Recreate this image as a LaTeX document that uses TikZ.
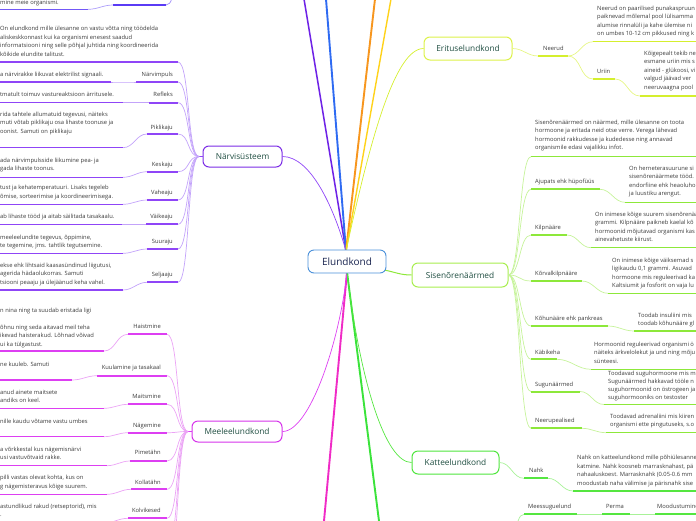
\documentclass[tikz,border=0pt]{standalone}
\usepackage{fontspec}
\setmainfont{Open Sans}
\definecolor{nvB}{HTML}{7B2CE6}
\definecolor{nvU}{HTML}{8F45F7}
\definecolor{nvC}{HTML}{C3A3FA}
\definecolor{meB}{HTML}{D633EB}
\definecolor{meU}{HTML}{DD3FF2}
\definecolor{meC}{HTML}{EBA3F5}
\definecolor{siB}{HTML}{A8EE4E}
\definecolor{siU}{HTML}{8DE83A}
\definecolor{siC}{HTML}{C6F39A}
\definecolor{erB}{HTML}{DDF24A}
\definecolor{erU}{HTML}{D5EF2E}
\definecolor{erC}{HTML}{E6F685}
\definecolor{kaB}{HTML}{4FE63D}
\definecolor{kaU}{HTML}{55E640}
\definecolor{kaC}{HTML}{A8F298}
\definecolor{elB}{HTML}{4A90D9}
\definecolor{inU}{HTML}{5A3BF5}
\definecolor{lnP}{HTML}{6E22E6}
\definecolor{lnB}{HTML}{2F6BF2}
\definecolor{lnO}{HTML}{F7961E}
\definecolor{lnY}{HTML}{FFD21A}
\definecolor{lnM}{HTML}{F02BC6}
\definecolor{lnG}{HTML}{3BE33B}
\definecolor{mainT}{HTML}{1E4D40}
\definecolor{elT}{HTML}{1A2550}
\definecolor{txt}{HTML}{3A3A3A}
\tikzset{
  lab/.style={font=\fontsize{5.8}{7}\selectfont, text=txt, inner sep=0pt},
  dtx/.style={font=\fontsize{5.8}{8.45}\selectfont, text=txt, inner sep=0pt, align=left, anchor=base west},
  mainbox/.style={draw, rounded corners=6pt, line width=1pt, fill=white, inner sep=0pt, text=mainT, font=\fontsize{8.3}{10}\selectfont},
  lul/.style={line width=2pt},
  dul/.style={line width=1.5pt},
  con/.style={line width=0.7pt},
}
\begin{document}
\begin{tikzpicture}[x={(1pt,0)},y={(0,-1pt)}]
\useasboundingbox (0,0) rectangle (696,520);
\clip (0,0) rectangle (696,520);

% ---------- central hub coordinates ----------
\coordinate (eT) at (346,251);
\coordinate (eB) at (347,272);
\coordinate (eR) at (384,270);
\coordinate (oP) at (304,-1);
\coordinate (oB) at (326,-1);
\coordinate (oO) at (375,-1);
\coordinate (oY) at (391,-1);
\coordinate (oM) at (324,521);
\coordinate (oG) at (379,521);

% main boxes
\node[mainbox, draw=nvB, minimum width=79pt, minimum height=21pt] (nv) at (242.5,156.5) {Närvisüsteem};
\node[mainbox, draw=meB, minimum width=90pt, minimum height=21pt] (me) at (237,431.5) {Meeleelundkond};
\node[mainbox, draw=erB, minimum width=88pt, minimum height=23pt] (er) at (468,48.5) {Erituselundkond};
\node[mainbox, draw=siB, minimum width=96pt, minimum height=24pt] (si) at (460,275) {Sisenõrenäärmed};
\node[mainbox, draw=kaB, minimum width=87pt, minimum height=23pt] (ka) at (455.5,462.5) {Katteelundkond};

% straight branches to off-canvas topics
\draw[line width=1.5pt, lnP] (eT) -- (oP);
\draw[line width=1.9pt, lnB] (eT) -- (oB);
\draw[line width=1.9pt, lnO] (eT) -- (oO);
\draw[line width=1.4pt, lnY] (eT) -- (oY);
\draw[line width=1.9pt, lnM] (eB) -- (oM);
\draw[line width=1.9pt, lnG] (eB) -- (oG);

% curved branches
\draw[con, nvU] (eT) .. controls (333,205) and (310,156.5) .. (nv.east);
\draw[con, erU] (eT) .. controls (370,140) and (395,48.5) .. (er.west);
\draw[con, meU] (eB) .. controls (340,340) and (310,431.5) .. (me.east);
\draw[con, kaU] (eB) .. controls (360,380) and (385,462.5) .. (ka.west);
\draw[line width=1pt, siU] (eR) .. controls (395,272) and (400,275) .. (si.west);

\node[draw=elB, rounded corners=6pt, line width=0.9pt, fill=white, inner sep=0pt, minimum width=78pt, minimum height=23pt, text=elT, font=\fontsize{10}{12}\selectfont] (el) at (347,261.5) {Elundkond};

% ---------- top-left fragment ----------
\node[dtx] (t1d) at (0,4.2) {mine meie organismi.};
\coordinate (t1dL) at (0,9.3); \coordinate (t1dR) at (88,9.3);
\coordinate (t1L) at (113,5); \coordinate (t1R) at (166,5);
\coordinate (t1P) at (175,-12);
\draw[dul, inU!85] (t1dL) -- (t1dR);
\draw[lul, inU] (t1L) -- (t1R);
\draw[con, inU!50] (t1dR) to[out=0,in=180] (t1L);
\draw[con, inU!60] (t1R) .. controls (172,5) and (172,-5) .. (t1P);

% ---------- Närvisüsteem ----------
\coordinate (nvH) at (199,156.5);
\draw[line width=1.5pt, nvU] (nvH) -- (nv.west);

\node[dtx] (nv0d) at (0,56.15) {On elundkond mille ülesanne on vastu võtta ning töödelda\\aliskeskkonnast kui ka organismi enesest saadud\\informatsiooni ning selle põhjal juhtida ning koordineerida\\kõikide elundite talitust.};
\coordinate (nv0dL) at (0,62); \coordinate (nv0dR) at (178,62);
\draw[dul, nvU] (nv0dL) -- (nv0dR);
\draw[con, nvC] (nvH) .. controls +(-12,0) and +(12,0) .. (nv0dR);

\node[lab, anchor=base east] (nv1) at (173,76.5) {Närvimpuls};
\coordinate (nv1L) at (136,82); \coordinate (nv1R) at (178,82);
\node[dtx] (nv1d) at (0,76.5) {a närvirakke liikuvat elektrilist signaali.};
\coordinate (nv1dL) at (0,82); \coordinate (nv1dR) at (111,82);

\node[lab, anchor=base east] (nv2) at (173,96.5) {Refleks};
\coordinate (nv2L) at (149,102.7); \coordinate (nv2R) at (178,102.7);
\node[dtx] (nv2d) at (0,96.5) {tmatult toimuv vastureaktsioon ärritusele.};
\coordinate (nv2dL) at (0,102.7); \coordinate (nv2dR) at (123,102.7);

\node[lab, anchor=base east] (nv3) at (173,129.2) {Piklikaju};
\coordinate (nv3L) at (147,134); \coordinate (nv3R) at (178,134);
\node[dtx] (nv3d) at (0,133.4) {rida tahtele allumatuid tegevusi, näiteks\\muti võtab piklikaju osa lihaste toonuse ja\\oonist. Samuti on piklikaju};
\coordinate (nv3dL) at (0,147.7); \coordinate (nv3dR) at (123,147.7);

\node[lab, anchor=base east] (nv4) at (173,166.2) {Keskaju};
\coordinate (nv4L) at (147,171.7); \coordinate (nv4R) at (178,171.7);
\node[dtx] (nv4d) at (0,170.65) {ada närvimpulsside liikumine pea- ja\\gada lihaste toonus.};
\coordinate (nv4dL) at (0,177.3); \coordinate (nv4dR) at (123,177.3);

\node[lab, anchor=base east] (nv5) at (173,194.8) {Vaheaju};
\coordinate (nv5L) at (147,200); \coordinate (nv5R) at (178,200);
\node[dtx] (nv5d) at (0,198.25) {tust ja kehatemperatuuri. Lisaks tegeleb\\õmise, sorteerimise ja koordineerimisega.};
\coordinate (nv5dL) at (0,204.3); \coordinate (nv5dR) at (123,204.3);

\node[lab, anchor=base east] (nv6) at (173,218.8) {Väikeaju};
\coordinate (nv6L) at (146,224.3); \coordinate (nv6R) at (178,224.3);
\node[dtx] (nv6d) at (0,218.8) {ab lihaste tööd ja aitab säilitada tasakaalu.};
\coordinate (nv6dL) at (0,224.3); \coordinate (nv6dR) at (122,224.3);

\node[lab, anchor=base east] (nv7) at (173,243.2) {Suuraju};
\coordinate (nv7L) at (147,249); \coordinate (nv7R) at (178,249);
\node[dtx] (nv7d) at (0,247.65) {meeleelundite tegevus, õppimine,\\te tegemine, jms. tahtlik tegutsemine.};
\coordinate (nv7dL) at (0,253.3); \coordinate (nv7dR) at (123,253.3);

\node[lab, anchor=base east] (nv8) at (173,276.5) {Seljaaju};
\coordinate (nv8L) at (147,282.3); \coordinate (nv8R) at (178,282.3);
\node[dtx] (nv8d) at (0,284.4) {ekse ehk lihtsaid kaasasündinud liigutusi,\\agerida hädaolukorras. Samuti\\tsiooni peaaju ja ülejäänud keha vahel.};
\coordinate (nv8dL) at (0,290); \coordinate (nv8dR) at (123,290);

\foreach \i in {1,...,8}{
  \draw[con, nvC] (nv\i dR) to[out=0,in=180] (nv\i L);
  \draw[con, nvC] (nvH) .. controls +(-12,0) and +(12,0) .. (nv\i R);
  \draw[lul, nvU] (nv\i L) -- (nv\i R);
  \draw[dul, nvU] (nv\i dL) -- (nv\i dR);
}

% ---------- Meeleelundkond ----------
\coordinate (meH) at (188,431.5);
\draw[line width=1.5pt, meU] (meH) -- (me.west);

\node[lab, anchor=base east] (me1) at (161,328.8) {Haistmine};
\coordinate (me1L) at (128,334.3); \coordinate (me1R) at (167,334.3);
\node[dtx] (me1d) at (0,346) {n nina ning ta suudab eristada ligi\\\mbox{}\\õhnu ning seda aitavad meil teha\\ikevad haisterakud. Lõhnad võivad\\ui ka tülgastust.};
\coordinate (me1dL) at (0,351); \coordinate (me1dR) at (104,351);

\node[lab, anchor=base east] (me2) at (161,369.8) {Kuulamine ja tasakaal};
\coordinate (me2L) at (97,375.7); \coordinate (me2R) at (167,375.7);
\node[dtx] (me2d) at (0,366.5) {ne kuuleb. Samuti};
\coordinate (me2dL) at (0,380); \coordinate (me2dR) at (72,380);

\node[lab, anchor=base east] (me3) at (161,398.2) {Maitsmine};
\coordinate (me3L) at (128,404.3); \coordinate (me3R) at (167,404.3);
\node[dtx] (me3d) at (0,402.65) {anud ainete maitsete\\andiks on keel.};
\coordinate (me3dL) at (0,408.3); \coordinate (me3dR) at (104,408.3);

\node[lab, anchor=base east] (me4) at (161,427.2) {Nägemine};
\coordinate (me4L) at (128,432.7); \coordinate (me4R) at (167,432.7);
\node[dtx] (me4d) at (0,423.2) {nille kaudu võtame vastu umbes};
\coordinate (me4dL) at (0,436.7); \coordinate (me4dR) at (104,436.7);

\node[lab, anchor=base east] (me5) at (161,454.8) {Pimetähn};
\coordinate (me5L) at (130,461); \coordinate (me5R) at (167,461);
\node[dtx] (me5d) at (0,459.95) {a võrkkestal kus nägemisnärvi\\usi vastuvõtvaid rakke.};
\coordinate (me5dL) at (0,465.7); \coordinate (me5dR) at (107,465.7);

\node[lab, anchor=base east] (me6) at (161,484.2) {Kollatähn};
\coordinate (me6L) at (131,489.3); \coordinate (me6R) at (167,489.3);
\node[dtx] (me6d) at (0,488.25) {pilli vastas olevat kohta, kus on\\g nägemisteravus kõige suurem.};
\coordinate (me6dL) at (0,494.3); \coordinate (me6dR) at (107,494.3);

\node[lab, anchor=base east] (me7) at (161,512.5) {Kolvikesed};
\coordinate (me7L) at (128,518.3); \coordinate (me7R) at (167,518.3);
\node[dtx] (me7d) at (0,516.65) {astundlikud rakud (retseptorid), mis\\.};
\coordinate (me7dL) at (0,523); \coordinate (me7dR) at (104,523);

\coordinate (me8R) at (167,548);
\coordinate (me9R) at (167,578);
\draw[con, meC] (meH) .. controls +(-12,0) and +(12,0) .. (me8R);
\draw[con, meC] (meH) .. controls +(-12,0) and +(12,0) .. (me9R);

\foreach \i in {1,...,7}{
  \draw[con, meC] (me\i dR) to[out=0,in=180] (me\i L);
  \draw[con, meC] (meH) .. controls +(-12,0) and +(12,0) .. (me\i R);
  \draw[lul, meU] (me\i L) -- (me\i R);
  \draw[dul, meU] (me\i dL) -- (me\i dR);
}

% ---------- Sisenõrenäärmed ----------
\coordinate (siH) at (si.east);
\node[dtx] (si0d) at (535,149.55) {Sisenõrenäärmed on näärmed, mille ülesanne on toota\\hormoone ja eritada neid otse verre. Verega lähevad\\hormoonid rakkudesse ja kudedesse ning annavad\\organismile edasi vajalikku infot.};
\coordinate (si0dL) at (531,156.7); \coordinate (si0dR) at (700,156.7);
\draw[dul, siU] (si0dL) -- (si0dR);
\draw[con, siC] (siH) .. controls +(12,0) and +(-12,0) .. (si0dL);

\node[lab, anchor=base west] (si1) at (535,183.8) {Ajupats ehk hüpofüüs};
\coordinate (si1L) at (531,189.3); \coordinate (si1R) at (600,189.3);
\node[dtx] (si1d) at (629,195.85) {On herneterasuurune si\\sisenõrenäärmete tööd.\\endorfiine ehk heaoluho\\ja luustiku arengut.};
\coordinate (si1dL) at (625,202.3); \coordinate (si1dR) at (700,202.3);

\node[lab, anchor=base west] (si2) at (535,229.2) {Kilpnääre};
\coordinate (si2L) at (531,235); \coordinate (si2R) at (567,235);
\node[dtx] (si2d) at (595,241.85) {On inimese kõige suurem sisenõrenää\\grammi. Kilpnääre paikneb kaelal kõ\\hormoonid mõjutavad organismi kas\\ainevahetuste kiirust.};
\coordinate (si2dL) at (591,247.7); \coordinate (si2dR) at (700,247.7);

\node[lab, anchor=base west] (si3) at (535,275.5) {Kõrvalkilpnääre};
\coordinate (si3L) at (531,281); \coordinate (si3R) at (582,281);
\node[dtx] (si3d) at (612,287.55) {On inimese kõige väiksemad s\\ligikaudu 0,1 grammi. Asuvad\\hormoone mis reguleerivad ka\\Kaltsiumit ja fosforit on vaja lu};
\coordinate (si3dL) at (608,293.3); \coordinate (si3dR) at (700,293.3);

\node[lab, anchor=base west] (si4) at (535,320.8) {Kõhunääre ehk pankreas};
\coordinate (si4L) at (531,326); \coordinate (si4R) at (608,326);
\node[dtx] (si4d) at (638,325.65) {Toodab insuliini mis\\toodab kõhunääre gl};
\coordinate (si4dL) at (634,331); \coordinate (si4dR) at (700,331);

\node[lab, anchor=base west] (si5) at (535,354.2) {Käbikeha};
\coordinate (si5L) at (531,359.3); \coordinate (si5R) at (557,359.3);
\node[dtx] (si5d) at (594,363.4) {Hormoonid reguleerivad organismi ö\\näiteks ärkvelolekut ja und ning mõju\\sünteesi.};
\coordinate (si5dL) at (591,369.3); \coordinate (si5dR) at (700,369.3);

\node[lab, anchor=base west] (si6) at (535,386.5) {Sugunäärmed};
\coordinate (si6L) at (531,391.5); \coordinate (si6R) at (580,391.5);
\node[dtx, font=\fontsize{5.8}{8.1}\selectfont] (si6d) at (608,399.6) {Toodavad suguhormoone mis m\\Sugunäärmed hakkavad tööle n\\suguhormoonid on östrogeen ja\\suguhormooniks on testoster};
\coordinate (si6dL) at (604,404.5); \coordinate (si6dR) at (700,404.5);

\node[lab, anchor=base west] (si7) at (535,422.2) {Neerupealised};
\coordinate (si7L) at (531,428.3); \coordinate (si7R) at (582,428.3);
\node[dtx] (si7d) at (610,426.65) {Toodavad adrenaliini mis kiiren\\organismi ette pingutuseks, s.o};
\coordinate (si7dL) at (606,432.7); \coordinate (si7dR) at (700,432.7);

\foreach \i in {1,...,7}{
  \draw[con, siC] (si\i R) to[out=0,in=180] (si\i dL);
  \draw[con, siC] (siH) .. controls +(12,0) and +(-12,0) .. (si\i L);
  \draw[lul, siU] (si\i L) -- (si\i R);
  \draw[dul, siU] (si\i dL) -- (si\i dR);
}

% ---------- Erituselundkond ----------
\node[lab, anchor=base west] (er1) at (543,50.5) {Neerud};
\coordinate (er1L) at (538,56); \coordinate (er1R) at (568,56);
\node[dtx] (er1d) at (597,35.85) {Neerud on paarilised punakaspruun\\paiknevad mõlemal pool lülisamma\\alumise rinnalüli ja kahe ülemise ni\\on umbes 10-12 cm pikkused ning k};
\coordinate (er1dL) at (593,41.7); \coordinate (er1dR) at (700,41.7);

\node[lab, anchor=base west] (er2) at (597,73.2) {Uriin};
\coordinate (er2L) at (593,79); \coordinate (er2R) at (615,79);
\node[dtx] (er2d) at (644,89.3) {Kõigepealt tekib ne\\esmane uriin mis s\\aineid - glükoosi, vi\\valgud jäävad ver\\neeruvaagna pool};
\coordinate (er2dL) at (640,96); \coordinate (er2dR) at (700,96);

\draw[con, erC] (er.east) to[out=0,in=180] (er1L);
\draw[con, erC] (er1R) to[out=0,in=180] (er1dL);
\draw[con, erC] (er1R) to[out=0,in=180] (er2L);
\draw[con, erC] (er2R) to[out=0,in=180] (er2dL);
\draw[lul, erU] (er1L) -- (er1R);
\draw[dul, erU] (er1dL) -- (er1dR);
\draw[lul, erU] (er2L) -- (er2R);
\draw[dul, erU] (er2dL) -- (er2dR);

% ---------- Katteelundkond ----------
\node[lab, anchor=base west] (ka1) at (529,472.5) {Nahk};
\coordinate (ka1L) at (524,478.3); \coordinate (ka1R) at (548,478.3);
\node[dtx] (ka1d) at (577,485.15) {Nahk on katteelundkond mille põhiülesanne\\katmine. Nahk koosneb marrasknahast, pä\\nahaaluskoest. Marrasknahk (0.05-0.6 mm\\moodustab naha välimise ja pärisnahk sise};
\coordinate (ka1dL) at (573,491); \coordinate (ka1dR) at (700,491);
\draw[con, kaC] (ka.east) to[out=0,in=180] (ka1L);
\draw[con, kaC] (ka1R) to[out=0,in=180] (ka1dL);
\draw[lul, kaU] (ka1L) -- (ka1R);
\draw[dul, kaU] (ka1dL) -- (ka1dR);

% ---------- bottom chain ----------
\node[lab, anchor=base west] (b1) at (528,508.2) {Meessuguelund};
\coordinate (b1L) at (524,514.3); \coordinate (b1R) at (577,514.3);
\node[lab, anchor=base west] (b2) at (606,508.2) {Perma};
\coordinate (b2L) at (602,514.3); \coordinate (b2R) at (630,514.3);
\node[lab, anchor=base west] (b3) at (657,508.2) {Moodustumine};
\coordinate (b3L) at (655,514.3); \coordinate (b3R) at (720,514.3);
\coordinate (b0) at (514,532);
\draw[con, kaC] (b1L) .. controls (518,514.3) and (518,525) .. (b0);
\draw[con, kaC] (b1R) -- (b2L);
\draw[con, kaC] (b2R) -- (b3L);
\draw[lul, kaU] (b1L) -- (b1R);
\draw[lul, kaU] (b2L) -- (b2R);
\draw[lul, kaU] (b3L) -- (b3R);
\end{tikzpicture}
\end{document}
